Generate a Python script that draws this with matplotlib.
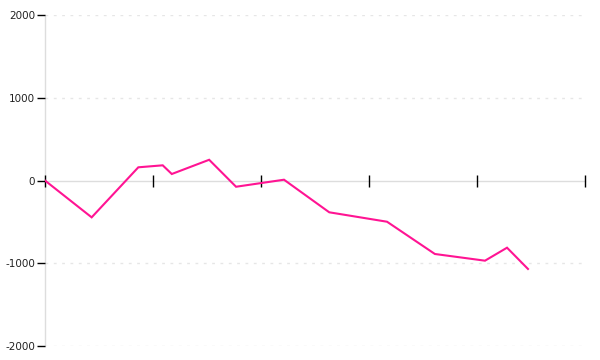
import matplotlib
matplotlib.use("Agg")
import matplotlib.pyplot as plt

x_vals = [0, 4.32, 8.64, 10.9, 11.74, 15.2, 17.69, 22.13, 26.32, 31.67, 36.1, 40.74, 42.78, 44.72]
y_vals = [0, -445, 160, 184, 79, 251, -75, 10, -384, -498, -888, -969, -812, -1069]
y_ticks = [-2000, -1000, 0, 1000, 2000]
x_ticks = [0, 10, 20, 30, 40, 50]

fig = plt.figure(figsize=(6, 3.6), dpi=100)
ax = fig.add_axes([0.075, 0.039, 0.9, 0.919])

ax.plot(x_vals, y_vals, color="#ff1493", linewidth=1.5, solid_joinstyle="miter", zorder=3)

ax.set_xlim(0, 50)
ax.set_ylim(-2000, 2000)

for s in ["top", "right"]:
    ax.spines[s].set_visible(False)
ax.spines["left"].set_color("#dddddd")
ax.spines["left"].set_linewidth(1)
ax.spines["left"].set_zorder(0.5)
ax.spines["bottom"].set_position(("data", 0))
ax.spines["bottom"].set_color("#dddddd")
ax.spines["bottom"].set_linewidth(1)
ax.spines["bottom"].set_zorder(0.5)

ax.set_yticks(y_ticks)
ax.set_yticklabels([f"{v}" for v in y_ticks])
ax.set_xticks(x_ticks)
ax.set_xticklabels([])
ax.tick_params(axis="x", direction="inout", length=9, width=1, color="black")
ax.tick_params(axis="y", direction="out", length=6, width=1, color="black",
               labelsize=7.5, labelcolor="#222222", pad=1)

for v in y_ticks:
    if v != 0:
        ax.axhline(v, color="#e6e6e6", linewidth=1, linestyle=(0, (2, 4)), zorder=0)

fig.savefig("out.png", dpi=100)
